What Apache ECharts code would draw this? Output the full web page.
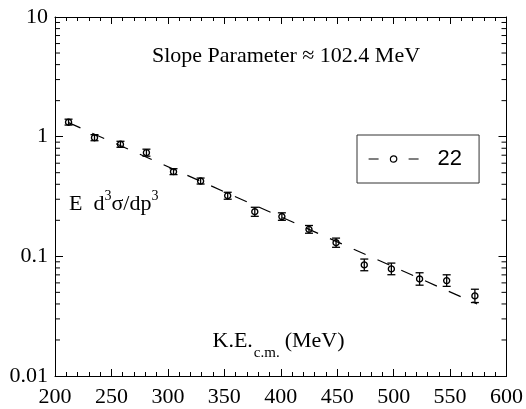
<!DOCTYPE html>
<html>
<head>
<meta charset="utf-8">
<script src="https://cdn.jsdelivr.net/npm/echarts@6/dist/echarts.min.js"></script>
<style>
html, body { margin: 0; padding: 0; background: #fff; }
#chart { width: 526px; height: 409px; }
</style>
</head>
<body>
<div id="chart"></div>
<script>
// K.E. c.m. (MeV) of each point and the invariant cross section
const keCm = [212, 235, 258, 281, 305, 329, 353, 377, 401, 425, 449, 474, 498, 523, 547, 572];
const yield22 = [1.32, 0.98, 0.864, 0.735, 0.510, 0.426, 0.321, 0.236, 0.215, 0.168, 0.130, 0.0848, 0.0785, 0.0647, 0.0627, 0.0467];
const errLow = [1.25, 0.925, 0.815, 0.687, 0.482, 0.402, 0.300, 0.216, 0.200, 0.156, 0.119, 0.0758, 0.0702, 0.0574, 0.0561, 0.0411];
const errHigh = [1.40, 1.04, 0.915, 0.786, 0.540, 0.451, 0.343, 0.257, 0.231, 0.181, 0.142, 0.0949, 0.0878, 0.0729, 0.0701, 0.0531];
// dashed exponential fit, end points
const fitX = [212, 574];
const fitY = [1.31, 0.040];
// minor ticks of the log axis
const yMinorTicks = [0.02, 0.03, 0.04, 0.05, 0.06, 0.07, 0.08, 0.09,
  0.2, 0.3, 0.4, 0.5, 0.6, 0.7, 0.8, 0.9,
  2, 3, 4, 5, 6, 7, 8, 9];

const serif = 'Liberation Serif';
const ink = '#000';

const ctx = document.createElement('canvas').getContext('2d');
// lay out a run of text pieces (for super/subscripts) on one baseline
function textRun (x, baseline, parts) {
  let els = [];
  parts.forEach(p => {
    ctx.font = p.size + 'px "' + serif + '"';
    els.push({
      type: 'text',
      x: x,
      y: baseline + (p.dy || 0) - 0.3375 * p.size,
      style: {
        text: p.t,
        fontFamily: serif,
        fontSize: p.size,
        fill: ink,
        align: 'left',
        verticalAlign: 'middle'
      }
    });
    x += ctx.measureText(p.t).width + (p.gap || 0);
  });
  return els;
}

let myChart = echarts.init(document.getElementById('chart'));

let xAxisBase = {
  type: 'value',
  min: 200,
  max: 600,
  interval: 50,
  axisLine: { lineStyle: { color: ink, width: 1 } },
  axisTick: { inside: true, length: 7, lineStyle: { color: ink } },
  minorTick: { show: true, splitNumber: 5, length: 4, lineStyle: { color: ink } },
  splitLine: { show: false }
};
let yAxisBase = {
  type: 'log',
  logBase: 10,
  min: 0.01,
  max: 10,
  axisLine: { show: true, lineStyle: { color: ink, width: 1 } },
  axisTick: { show: true, inside: true, length: 8, lineStyle: { color: ink } },
  splitLine: { show: false }
};

let option = {
  animation: false,
  grid: { left: 55, right: 18, top: 17, bottom: 33 },
  xAxis: [
    Object.assign({}, xAxisBase, {
      position: 'bottom',
      axisLabel: { fontFamily: serif, fontSize: 22, color: ink, margin: 10 }
    }),
    Object.assign({}, xAxisBase, {
      position: 'top',
      axisLabel: { show: false }
    })
  ],
  yAxis: [
    Object.assign({}, yAxisBase, {
      position: 'left',
      axisLabel: { fontFamily: serif, fontSize: 22, color: ink, margin: 7 }
    }),
    Object.assign({}, yAxisBase, {
      position: 'right',
      axisLabel: { show: false }
    })
  ],
  legend: {
    data: ['22'],
    left: 357,
    top: 135,
    orient: 'horizontal',
    padding: [13, 17, 13, 11],
    borderColor: '#333',
    borderWidth: 1,
    borderRadius: 0,
    itemWidth: 50,
    itemHeight: 8,
    selectedMode: false,
    itemStyle: { color: 'transparent', borderColor: ink, borderWidth: 1.2 },
    lineStyle: { color: ink, width: 1.2, type: [10, 30], opacity: 1 },
    textStyle: {
      fontFamily: 'Liberation Sans',
      fontSize: 22,
      color: ink,
      padding: [0, 0, 0, 14]
    }
  },
  graphic: [].concat(
    textRun(152, 63.5, [{ t: 'Slope Parameter ≈ 102.4 MeV', size: 22 }]),
    textRun(69, 211.5, [
      { t: 'E  d', size: 22 },
      { t: '3', size: 14, dy: -10 },
      { t: 'σ/dp', size: 22 },
      { t: '3', size: 14, dy: -10 }
    ]),
    textRun(212.5, 348.5, [
      { t: 'K.E.', size: 22, gap: 1 },
      { t: 'c.m.', size: 15, dy: 10, gap: 5 },
      { t: '(MeV)', size: 22 }
    ])
  ),
  series: [
    {
      // fit line
      type: 'line',
      data: fitX.map((x, i) => [x, fitY[i]]),
      symbol: 'none',
      silent: true,
      lineStyle: { color: ink, width: 1.2, type: [13, 13] },
      z: 2
    },
    {
      // error bars
      type: 'custom',
      silent: true,
      renderItem: function (params, api) {
        let x = api.value(0);
        let lo = api.coord([x, api.value(1)]);
        let hi = api.coord([x, api.value(2)]);
        let w = 4;
        let st = { stroke: ink, lineWidth: 1.3 };
        return {
          type: 'group',
          children: [
            { type: 'line', shape: { x1: lo[0], y1: lo[1], x2: hi[0], y2: hi[1] }, style: st },
            { type: 'line', shape: { x1: lo[0] - w, y1: lo[1], x2: lo[0] + w, y2: lo[1] }, style: st },
            { type: 'line', shape: { x1: hi[0] - w, y1: hi[1], x2: hi[0] + w, y2: hi[1] }, style: st }
          ]
        };
      },
      encode: { x: 0, y: [1, 2] },
      data: keCm.map((x, i) => [x, errLow[i], errHigh[i]]),
      z: 3
    },
    {
      name: '22',
      type: 'line',
      data: keCm.map((x, i) => [x, yield22[i]]),
      symbol: 'circle',
      symbolSize: 6,
      lineStyle: { opacity: 0 },
      itemStyle: { color: 'transparent', borderColor: ink, borderWidth: 1.4 },
      z: 4
    },
    {
      // minor ticks of both log axes
      type: 'custom',
      silent: true,
      clip: false,
      renderItem: function (params, api) {
        let v = api.value(1);
        let l = api.coord([200, v]);
        let r = api.coord([600, v]);
        let st = { stroke: ink, lineWidth: 1 };
        return {
          type: 'group',
          children: [
            { type: 'line', shape: { x1: l[0], y1: l[1], x2: l[0] + 5, y2: l[1] }, style: st },
            { type: 'line', shape: { x1: r[0] - 5, y1: r[1], x2: r[0], y2: r[1] }, style: st }
          ]
        };
      },
      encode: { x: 0, y: 1 },
      data: yMinorTicks.map(v => [200, v]),
      z: 1
    }
  ]
};
myChart.setOption(option);
</script>
</body>
</html>
